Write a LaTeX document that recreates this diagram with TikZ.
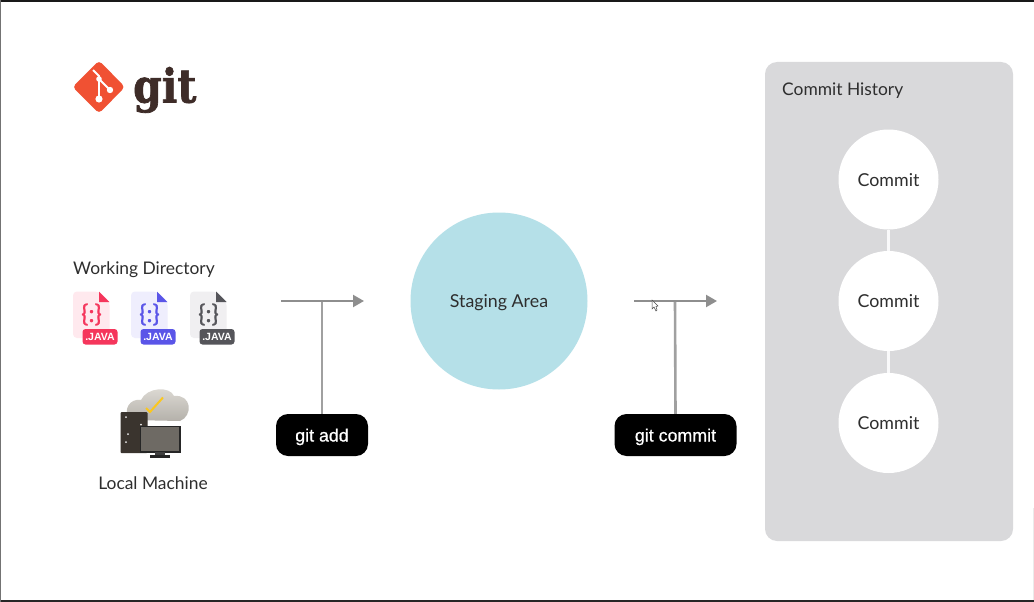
\documentclass[tikz,border=0pt]{standalone}
\usepackage{fontspec}
\setmainfont{Lato}
\newfontfamily\btnfont[FakeBold=0.6]{Liberation Sans}
\newfontfamily\tagfont{Liberation Sans}
\newfontfamily\logofont[FakeBold=1.6]{DejaVu Serif}
\newfontfamily\bracefont[FakeBold=1]{Lato}
\usetikzlibrary{arrows.meta,calc}
\definecolor{panel}{HTML}{D9D9DB}
\definecolor{stagec}{HTML}{B5E0E8}
\definecolor{ink}{HTML}{2E2E2E}
\definecolor{linec}{HTML}{8E8E8E}
\definecolor{linev}{HTML}{A0A0A0}
\definecolor{gitred}{HTML}{F05133}
\definecolor{gitdark}{HTML}{3E2C28}
\definecolor{jred}{HTML}{F5365C}
\definecolor{jredl}{HTML}{FFE9EE}
\definecolor{jblue}{HTML}{5A55E8}
\definecolor{jbluel}{HTML}{EFEEFD}
\definecolor{jgrey}{HTML}{55555A}
\definecolor{jgreyl}{HTML}{F0EFF1}
\definecolor{cloudc}{HTML}{D4D0C8}
\definecolor{serverc}{HTML}{3A342E}
\definecolor{screenc}{HTML}{6E6A64}
\tikzset{
  x=1pt,y=-1pt,
  lbl/.style={font=\fontsize{17.4}{20}\selectfont,text=ink,inner sep=0pt},
  commitnode/.style={circle,fill=white,minimum size=100pt,inner sep=0pt,font=\fontsize{17.8}{20}\selectfont,text=ink,text height=13.5pt,text depth=0pt},
  btn/.style={fill=black,rounded corners=12pt,text=white,font=\btnfont\fontsize{17.8}{20}\selectfont,minimum height=42pt,inner sep=0pt,text height=13pt,text depth=0pt},
  flow/.style={draw=linev,line width=2.6pt},
  flowarrow/.style={draw=linec,line width=2.2pt,-{Triangle[length=11pt,width=12pt,fill=linec]}},
  link/.style={draw=white!85!panel,line width=3pt},
}
\newcommand{\javafile}[3]{% x, light, strong
  \begin{scope}[shift={(#1,291.5)}]
    \fill[#2,rounded corners=4pt] (0,0) -- (26,0) -- (36.5,10) -- (36.5,46.5) -- (0,46.5) -- cycle;
    \fill[#3] (26,0) -- (36.5,10.5) -- (26,10.5) -- cycle;
    \node[text=#3,inner sep=0pt,font=\bracefont\fontsize{24}{24}\selectfont] at (18.5,23) {\{:\}};
    \fill[#3,rounded corners=3pt] (9.5,37.5) rectangle (44.5,53);
    \node[text=white,inner sep=0pt,font=\tagfont\bfseries\fontsize{10.5}{11}\selectfont] at (27,45.5) {.JAVA};
  \end{scope}
}
\begin{document}
\begin{tikzpicture}
\useasboundingbox (0,0) rectangle (1034,602);
\fill[white] (0,0) rectangle (1034,602);
\fill[black!90] (0,0) rectangle (1034,2.3);
\fill[black!85] (0,599.5) rectangle (1034,602);
\fill[black!55] (0,0) rectangle (1.3,602);
\fill[black!8] (1032.8,508) rectangle (1034,600);
% git logo
\fill[gitred,rounded corners=4pt] (99,60.5) -- (125,87) -- (99,113.5) -- (72.5,87) -- cycle;
\draw[white,line width=1.9pt] (93,70) -- (99,76) -- (99,99);
\draw[white,line width=1.9pt] (99,79) -- (110,90);
\fill[white] (99,79) circle (2.8) (99,99) circle (3.6) (110,90) circle (3.2);
\node[inner sep=0pt,text=gitdark,anchor=base west,font=\logofont\bfseries\fontsize{41}{41}\selectfont] (gittext) at (133,102.5) {\scalebox{1}[1.14]{git}};
% working directory
\node[lbl,anchor=west] (wd) at (73,269.5) {Working Directory};
\javafile{73}{jredl}{jred}
\javafile{131}{jbluel}{jblue}
\javafile{190}{jgreyl}{jgrey}
% local machine illustration
\shade[top color=cloudc!75!white,bottom color=cloudc!85!black]
  (130,420) .. controls (122,410) and (130,398) .. (141,400)
  .. controls (147,387) and (170,386) .. (174,396)
  .. controls (192,394) and (193,416) .. (180,421)
  -- cycle;
\draw[yellow!55!orange!90!white,line width=2pt] (146,408) -- (150,412) -- (163,397.5);
\fill[serverc,rounded corners=1pt] (120.5,412) rectangle (147.5,453);
\foreach \yy/\xx in {417/126,434/128,442/126}{\fill[white!85!gray] (\xx,\yy) circle (1);}
\fill[white!85!gray] (141,424.5) circle (1);
\fill[screenc,draw=black!85,line width=1.2pt] (140.5,426.5) rectangle (180,452);
\fill[black!75] (155,452) rectangle (165,455);
\fill[black!85] (149.5,455) rectangle (170,457.5);
\node[lbl] (lm) at (153,483) {Local Machine};
% git add
\coordinate (a1) at (281,301);
\coordinate (a2) at (364,301);
\coordinate (a3) at (322,301);
\node[btn,minimum width=92pt] (add) at (322,435) {git add};
\draw[flow] (a3) -- (add.north);
\draw[flowarrow] (a1) -- (a2);
% staging
\node[circle,fill=stagec,minimum size=177pt,inner sep=0pt,font=\fontsize{17.8}{20}\selectfont,text=ink,text height=12.5pt,text depth=0pt] (stage) at (499,301) {Staging Area};
% git commit
\coordinate (b1) at (634,301);
\coordinate (b2) at (717,301);
\coordinate (b3) at (675,301);
\node[btn,minimum width=122pt] (commit) at (675.5,435) {git commit};
\draw[flow] (b3) -- (commit.north);
\draw[flowarrow] (b1) -- (b2);
% cursor
\draw[black!70,fill=white,line width=.5pt] (652,300) -- (652,309) -- (654,307) -- (656,311) -- (657,310) -- (656,306.5) -- (658,306) -- cycle;
% history
\fill[panel,rounded corners=12pt] (765,62) rectangle (1013,541);
\node[lbl,anchor=west] (hist) at (782,90.5) {Commit History};
\node[commitnode] (c1) at (888.5,179.5) {Commit};
\node[commitnode] (c2) at (888.5,301) {Commit};
\node[commitnode] (c3) at (888.5,423) {Commit};
\draw[link] (c1) -- (c2);
\draw[link] (c2) -- (c3);
\end{tikzpicture}
\end{document}
